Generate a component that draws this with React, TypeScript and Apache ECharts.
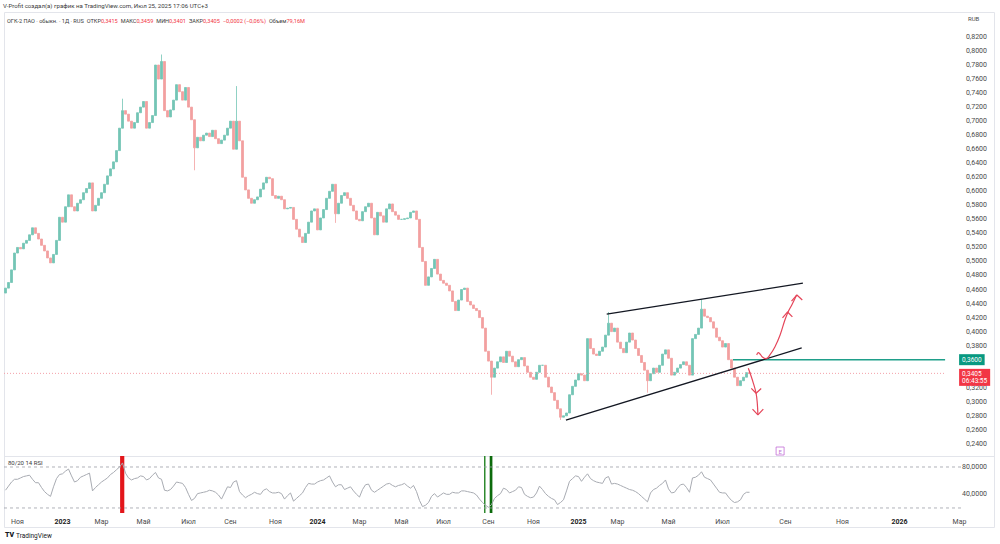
import React, { useEffect, useRef } from 'react';
import * as echarts from 'echarts';

const FONT = 'Roboto, "Noto Sans", "DejaVu Sans", sans-serif';
const SLOT_COUNT = 330;
const FIRST_OPEN = 0.455;

// closes, one per ~3 trading days (slot), Oct 2022 .. Jul 25 2025
const CLOSES = [
  0.462, 0.47, 0.488, 0.512, 0.52, 0.518, 0.526, 0.53, 0.538, 0.548,
  0.54, 0.532, 0.523, 0.515, 0.505, 0.498, 0.51, 0.53, 0.563, 0.556,
  0.578, 0.595, 0.578, 0.572, 0.583, 0.588, 0.598, 0.604, 0.612, 0.572,
  0.58, 0.59, 0.598, 0.61, 0.622, 0.632, 0.642, 0.658, 0.69, 0.715,
  0.71, 0.7, 0.69, 0.698, 0.712, 0.72, 0.728, 0.69, 0.698, 0.708,
  0.78, 0.76, 0.785, 0.715, 0.706, 0.716, 0.73, 0.752, 0.742, 0.73,
  0.748, 0.72, 0.702, 0.662, 0.677, 0.672, 0.68, 0.683, 0.678, 0.687,
  0.675, 0.668, 0.673, 0.68, 0.69, 0.7, 0.66, 0.7, 0.672, 0.62,
  0.602, 0.59, 0.583, 0.588, 0.592, 0.603, 0.612, 0.62, 0.618, 0.594,
  0.59, 0.593, 0.588, 0.575, 0.576, 0.577, 0.56, 0.546, 0.535, 0.527,
  0.54, 0.556, 0.572, 0.575, 0.545, 0.562, 0.574, 0.59, 0.6, 0.61,
  0.568, 0.583, 0.594, 0.598, 0.59, 0.58, 0.572, 0.56, 0.558, 0.571,
  0.578, 0.583, 0.562, 0.538, 0.57, 0.565, 0.556, 0.575, 0.582, 0.571,
  0.566, 0.56, 0.56, 0.561, 0.562, 0.57, 0.572, 0.56, 0.52, 0.5,
  0.466, 0.478, 0.49, 0.503, 0.482, 0.473, 0.469, 0.466, 0.458, 0.443,
  0.43, 0.445, 0.46, 0.462, 0.443, 0.438, 0.433, 0.43, 0.42, 0.405,
  0.372, 0.358, 0.335, 0.348, 0.357, 0.364, 0.356, 0.372, 0.365, 0.357,
  0.35, 0.36, 0.363, 0.351, 0.342, 0.335, 0.332, 0.342, 0.352, 0.352,
  0.335, 0.321, 0.313, 0.302, 0.29, 0.278, 0.28, 0.284, 0.31, 0.322,
  0.331, 0.34, 0.338, 0.33, 0.39, 0.376, 0.368, 0.366, 0.372, 0.378,
  0.395, 0.412, 0.4, 0.405, 0.385, 0.376, 0.37, 0.385, 0.398, 0.388,
  0.376, 0.366, 0.356, 0.345, 0.33, 0.34, 0.348, 0.342, 0.352, 0.368,
  0.374, 0.362, 0.338, 0.342, 0.348, 0.353, 0.357, 0.352, 0.338, 0.39,
  0.396, 0.405, 0.432, 0.422, 0.42, 0.414, 0.405, 0.392, 0.387, 0.378,
  0.383, 0.36, 0.348, 0.335, 0.323, 0.33, 0.335, 0.3415, 0.3405,
];
const HIGH_WICKS: [number, number][] = [[39, 0.732], [52, 0.795], [77, 0.75], [201, 0.428], [232, 0.446]];
const LOW_WICKS: [number, number][] = [[63, 0.63], [110, 0.555], [162, 0.31], [185, 0.274], [214, 0.313]];

const RSI = [
  46, 52, 58, 62, 62, 64, 66, 67, 68, 62,
  57, 57, 50, 44, 40, 37, 51, 63, 69, 70,
  74, 77, 67, 58, 60, 65, 67, 69, 71, 45,
  50, 54, 58, 61, 64, 69, 72, 76, 80, 86,
  71, 64, 61, 63, 64, 67, 66, 61, 63, 68,
  72, 64, 62, 46, 45, 47, 52, 58, 57, 56,
  50, 40, 31, 34, 41, 42, 43, 44, 46, 45,
  43, 39, 33, 42, 51, 50, 58, 60, 44, 39,
  35, 38, 40, 43, 41, 40, 46, 48, 44, 42,
  42, 43, 41, 33, 38, 42, 30, 34, 38, 42,
  50, 56, 55, 55, 58, 60, 61, 64, 67, 58,
  51, 54, 54, 47, 49, 51, 45, 40, 36, 47,
  54, 55, 46, 43, 46, 49, 52, 55, 56, 53,
  51, 53, 54, 56, 52, 49, 53, 44, 31, 22,
  24, 28, 37, 41, 36, 39, 42, 40, 40, 43,
  42, 42, 45, 45, 44, 43, 42, 39, 33, 28,
  24, 21, 25, 34, 38, 41, 49, 47, 42, 44,
  46, 51, 50, 40, 37, 35, 36, 42, 52, 47,
  41, 37, 34, 32, 25, 28, 32, 45, 59, 63,
  67, 66, 59, 65, 70, 63, 60, 58, 57, 56,
  64, 66, 55, 56, 55, 53, 51, 49, 47, 46,
  44, 41, 37, 33, 29, 42, 47, 49, 53, 56,
  61, 48, 42, 43, 49, 54, 55, 50, 43, 64,
  65, 68, 73, 65, 63, 61, 55, 49, 43, 42,
  42, 36, 31, 28, 29, 32, 40, 43, 43,
];

const TIME_TICK_SLOTS = [4, 19, 32, 46, 61, 75, 90, 104, 118, 132, 146, 161, 176, 191, 204, 221, 239, 260, 279, 298, 318];
const TIME_TICK_LABELS = ['Ноя', '2023', 'Мар', 'Май', 'Июл', 'Сен', 'Ноя', '2024', 'Мар', 'Май', 'Июл', 'Сен', 'Ноя', '2025', 'Мар', 'Май', 'Июл', 'Сен', 'Ноя', '2026', 'Мар'];
const PRICE_TICKS = [0.82, 0.8, 0.78, 0.76, 0.74, 0.72, 0.7, 0.68, 0.66, 0.64, 0.62, 0.6, 0.58, 0.56, 0.54, 0.52, 0.5, 0.48, 0.46, 0.44, 0.42, 0.4, 0.38, 0.36, 0.34, 0.32, 0.3, 0.28, 0.26, 0.24];
const RSI_TICKS = [80, 40];
const RSI_BANDS = [80, 20];
const LAST_CLOSE = 0.3405;
const COUNTDOWN = '06:43:55';
const LEVEL = 0.36;
const LEVEL_START = 242.5;
const PANE_END = 313.2;
const RSI_BAND_END = 319;

const UPPER_LINE = [[200.4, 0.425], [265.8, 0.469]];
const LOWER_LINE = [[186.8, 0.274], [265.4, 0.3767]];
const ARROW_UP = [[250.4, 0.3667], [250.9, 0.37], [251.5, 0.3681], [252.4, 0.3634], [253.5, 0.3614], [254.8, 0.3667], [256.5, 0.3785], [258.2, 0.3952], [259.8, 0.4166], [260.9, 0.4284], [262.1, 0.438], [263.2, 0.4475], [263.7, 0.4522]];
const ARROW_UP_HEADS = [
  [[259.0, 0.4195], [260.7, 0.428], [262.3, 0.421]],
  [[262.0, 0.4435], [263.8, 0.4522], [265.6, 0.445]],
];
const ARROW_DOWN = [[247.6, 0.3477], [248.4, 0.3382], [249.3, 0.3263], [250.2, 0.3121], [250.6, 0.2978], [250.8, 0.2812]];
const ARROW_DOWN_HEADS = [
  [[248.6, 0.319], [250.2, 0.3121], [251.9, 0.319]],
  [[249.0, 0.2895], [250.8, 0.2812], [252.6, 0.2895]],
];
const EARNINGS = [[258.2, 0.2298]];
const RSI_SIGNALS = [
  { from: 38.2, to: 39.6, color: '#e3161b' },
  { from: 159.5, to: 160.0, color: '#2f8a2f' },
  { from: 161.4, to: 162.3, color: '#0c6b0c' },
];

const LEGEND_NAME = 'ОГК-2 ПАО · обыкн. · 1Д · RUS';
const LEGEND_ITEMS = [['ОТКР', '0,3415'], ['МАКС', '0,3459'], ['МИН', '0,3401'], ['ЗАКР', '0,3405'], ['', '−0,0002 (−0,06%)'], ['Объем', '79,16M']];
const HEADER = 'V-Profit создал(а) график на TradingView.com, Июл 25, 2025 17:06 UTC+3';

const fmt4 = (v: number) => v.toFixed(4).replace('.', ',');

export default function App() {
  const ref = useRef<HTMLDivElement>(null);
  useEffect(() => {
    const el = ref.current!;
    const chart = echarts.init(el, null, { renderer: 'svg' });
    const slots = Array.from({ length: SLOT_COUNT }, (_, i) => 's' + i);
    const tickMap: Record<number, string> = {};
    TIME_TICK_SLOTS.forEach((s, k) => (tickMap[s] = TIME_TICK_LABELS[k]));

    const candles = CLOSES.map((c, i) => {
      const o = i === 0 ? FIRST_OPEN : CLOSES[i - 1];
      let lo = Math.min(o, c);
      let hi = Math.max(o, c);
      const hw = HIGH_WICKS.find((w) => w[0] === i);
      const lw = LOW_WICKS.find((w) => w[0] === i);
      if (hw) hi = Math.max(hi, hw[1]);
      if (lw) lo = Math.min(lo, lw[1]);
      return [o, c, lo, hi];
    });

    const priceTicks = PRICE_TICKS.filter((t) => Math.abs(t - LEVEL) > 0.01 && Math.abs(t - LAST_CLOSE) > 0.01);

    const lineBase = (data: number[][], color: string, width: number, extra: any = {}) => ({
      type: 'line',
      xAxisIndex: 2,
      yAxisIndex: 0,
      data,
      symbol: 'none',
      silent: true,
      lineStyle: { color, width },
      z: 5,
      ...extra,
    });
    const ARROW_COLOR = '#e5465a';

    const legendText =
      '{n|' + LEGEND_NAME + '} ' +
      LEGEND_ITEMS.map(([k, v]) => (k ? '{n|' + k + '}' : '') + '{v|' + v + '}').join(' ');

    chart.setOption({
      animation: false,
      backgroundColor: '#ffffff',
      grid: [
        { left: 4, width: 990, top: 12, height: 444 },
        { left: 4, width: 990, top: 456, height: 57 },
      ],
      xAxis: [
        { type: 'category', gridIndex: 0, data: slots, show: false, boundaryGap: true },
        {
          type: 'category', gridIndex: 1, data: slots, boundaryGap: true,
          axisLine: { show: false }, axisTick: { show: false }, splitLine: { show: false },
          axisLabel: {
            interval: 0, margin: 5, fontSize: 7, color: '#4a4a4a', fontFamily: FONT,
            formatter: (_v: string, idx: number) => {
              const t = tickMap[idx];
              if (!t) return '';
              return /^\d{4}$/.test(t) ? '{y|' + t + '}' : t;
            },
            rich: { y: { fontSize: 7, fontWeight: 'bold', color: '#222', fontFamily: FONT } },
          },
        },
        { type: 'value', gridIndex: 0, min: -0.5, max: SLOT_COUNT - 0.5, show: false, splitLine: { show: false } },
        { type: 'value', gridIndex: 1, min: -0.5, max: SLOT_COUNT - 0.5, show: false, splitLine: { show: false } },
      ],
      yAxis: [
        {
          type: 'value', gridIndex: 0, position: 'right', min: 0.2227, max: 0.8556,
          axisLine: { show: false }, axisTick: { show: false }, splitLine: { show: false },
          axisLabel: { inside: true, customValues: priceTicks, formatter: (v: number) => fmt4(v), fontSize: 7, color: '#4a4a4a', margin: 7, fontFamily: FONT },
        },
        {
          type: 'value', gridIndex: 1, position: 'right', min: 12.65, max: 96.1,
          axisLine: { show: false }, axisTick: { show: false }, splitLine: { show: false },
          axisLabel: { inside: true, customValues: RSI_TICKS, formatter: (v: number) => fmt4(v), fontSize: 7, color: '#4a4a4a', margin: 7, fontFamily: FONT },
        },
      ],
      series: [
        {
          type: 'candlestick', xAxisIndex: 0, yAxisIndex: 0, data: candles, barWidth: 1.7, silent: true,
          itemStyle: { color: '#74c5b5', color0: '#f2a0a0', borderColor: '#74c5b5', borderColor0: '#f2a0a0', borderWidth: 0.8 },
        },
        lineBase([[-0.5, LAST_CLOSE], [PANE_END, LAST_CLOSE]], '#f4a0a8', 1, {
          lineStyle: { color: '#f4a0a8', width: 1, type: [1, 2] },
          z: 3,
          endLabel: {
            show: true, formatter: fmt4(LAST_CLOSE) + '\n' + COUNTDOWN, backgroundColor: '#f23645', color: '#fff',
            fontSize: 6.5, lineHeight: 7.5, padding: [1, 3], distance: 14, offset: [0, 4], fontFamily: FONT,
          },
        }),
        lineBase([[LEVEL_START, LEVEL], [PANE_END, LEVEL]], '#1f9f8a', 1.6, {
          endLabel: {
            show: true, formatter: fmt4(LEVEL), backgroundColor: '#089981', color: '#fff',
            fontSize: 6.5, padding: [2, 3], distance: 14, fontFamily: FONT,
          },
        }),
        lineBase(UPPER_LINE, '#131722', 1.3),
        lineBase(LOWER_LINE, '#131722', 1.3),
        lineBase(ARROW_UP, ARROW_COLOR, 1.2, { smooth: 0.4 }),
        ...ARROW_UP_HEADS.map((h) => lineBase(h, ARROW_COLOR, 1.2)),
        lineBase(ARROW_DOWN, ARROW_COLOR, 1.2, { smooth: 0.4 }),
        ...ARROW_DOWN_HEADS.map((h) => lineBase(h, ARROW_COLOR, 1.2)),
        {
          type: 'scatter', xAxisIndex: 2, yAxisIndex: 0, data: EARNINGS, symbol: 'rect', symbolSize: 8, silent: true,
          itemStyle: { color: '#fff', borderColor: '#c06bd6', borderWidth: 1 },
          label: { show: true, position: 'inside', formatter: 'E', fontSize: 6, color: '#b04cc9', fontFamily: FONT },
          z: 6,
        },
        {
          type: 'line', xAxisIndex: 1, yAxisIndex: 1, data: RSI, symbol: 'none', silent: true,
          lineStyle: { color: '#a8abb2', width: 1 }, z: 4,
        },
        ...RSI_BANDS.map((b, k) => ({
          type: 'line', xAxisIndex: 3, yAxisIndex: 1, data: [[-0.5, b], [RSI_BAND_END, b]], symbol: 'none', silent: true,
          lineStyle: { color: '#9a9da6', width: 0.8, type: [3, 3] }, z: 3,
          markArea: k === 0 ? {
            silent: true,
            data: RSI_SIGNALS.map((s) => [{ xAxis: s.from, itemStyle: { color: s.color, opacity: 1 } }, { xAxis: s.to }]),
          } : undefined,
        })),
      ],
      graphic: [
        { type: 'rect', silent: true, z: -10, shape: { x: 4.5, y: 12.5, width: 990, height: 515 }, style: { fill: 'none', stroke: '#e3e5eb', lineWidth: 1 } },
        { type: 'line', silent: true, shape: { x1: 4, y1: 456.5, x2: 995, y2: 456.5 }, style: { stroke: '#e3e5eb', lineWidth: 1 } },
        { type: 'text', silent: true, left: 3, top: 2, style: { text: HEADER, fontSize: 6.1, fill: '#3a3a3a', fontFamily: FONT } },
        {
          type: 'text', silent: true, left: 7, top: 15,
          style: {
            text: legendText, fontFamily: FONT,
            rich: {
              n: { fontSize: 5.6, fill: '#3a3a3a', fontFamily: FONT },
              v: { fontSize: 5.6, fill: '#f23645', fontFamily: FONT },
            },
          },
        },
        { type: 'text', silent: true, left: 968, top: 15, style: { text: 'RUB', fontSize: 6, fill: '#4a4a4a', fontFamily: FONT } },
        { type: 'text', silent: true, left: 8, top: 459.5, style: { text: '80/20 14 RSI', fontSize: 6, fill: '#3a3a3a', fontFamily: FONT } },
        { type: 'text', silent: true, left: 5, top: 531.5, style: { text: 'TV', fontSize: 7, fontWeight: 900, fill: '#131722', fontFamily: FONT } },
        { type: 'text', silent: true, left: 16, top: 532, style: { text: 'TradingView', fontSize: 6.5, fill: '#131722', fontFamily: FONT } },
      ],
    });
    return () => chart.dispose();
  }, []);
  return <div ref={ref} style={{ position: 'fixed', left: 0, top: 0, width: 1000, height: 544, background: '#fff' }} />;
}
